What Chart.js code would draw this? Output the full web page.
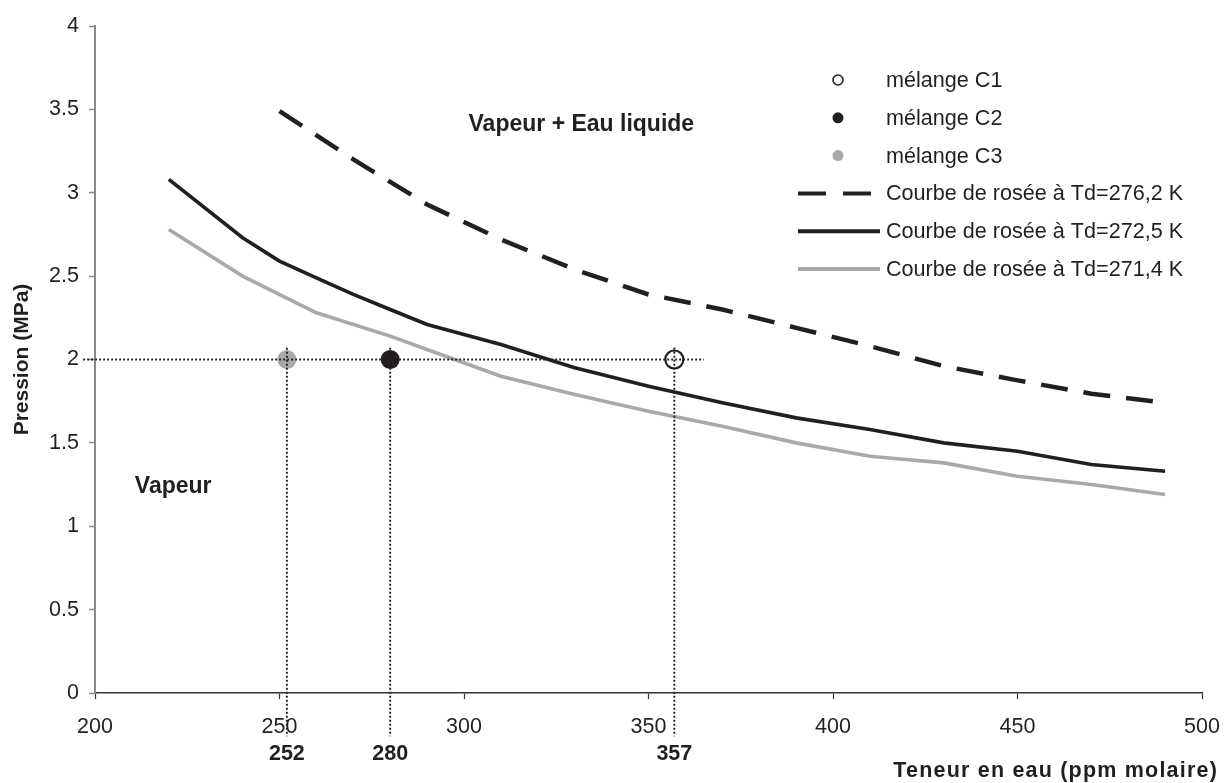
<!DOCTYPE html>
<html>
<head>
<meta charset="utf-8">
<title>Courbes de rosée</title>
<script src="https://cdn.jsdelivr.net/npm/chart.js@4/dist/chart.umd.min.js"></script>
<style>
  body { margin: 0; background: #fff; }
  canvas { display: block; }
</style>
</head>
<body>
<canvas id="chartRosee" width="1227" height="783"></canvas>
<script>
// --- data ---
var xBounds = [200, 500];
var yBounds = [0, 4];

// dew curve Td = 276,2 K (dashed)
var teneur276 = [250, 270, 290, 310, 330, 350, 370, 390, 410, 430, 450, 470, 490];
var pression276 = [3.49, 3.20, 2.93, 2.72, 2.54, 2.39, 2.30, 2.19, 2.08, 1.96, 1.875, 1.795, 1.74];

// dew curve Td = 272,5 K (black)
var teneur272 = [220, 240, 250, 260, 270, 280, 290, 310, 330, 350, 370, 390, 410, 430, 450, 470, 490];
var pression272 = [3.08, 2.73, 2.59, 2.49, 2.39, 2.30, 2.21, 2.09, 1.95, 1.84, 1.74, 1.65, 1.58, 1.50, 1.45, 1.37, 1.33];

// dew curve Td = 271,4 K (grey)
var teneur271 = [220, 240, 260, 280, 290, 310, 330, 350, 370, 390, 410, 430, 450, 470, 490];
var pression271 = [2.78, 2.50, 2.28, 2.14, 2.06, 1.90, 1.79, 1.69, 1.60, 1.50, 1.42, 1.38, 1.30, 1.25, 1.19];

// mixtures C1, C2, C3
var melangeNoms = ['mélange C1', 'mélange C2', 'mélange C3'];
var melangeTeneur = [357, 280, 252];
var melangePression = [2, 2, 2];

// dotted guide extents
var guideX = [196.8, 365];
var guideY = [2.07, -0.26];

var INK = '#231f20';
var GREY = '#a7a9ac';
var FONT = '"Liberation Sans", Arial, sans-serif';

function pts(xs, ys) {
	return xs.map(function (x, i) { return { x: x, y: ys[i] }; });
}

var guideStyle = {
	showLine: true,
	borderColor: INK,
	borderWidth: 1.9,
	borderDash: [1.9, 2.1],
	pointRadius: 0,
	clip: false,
	inLegend: false
};

var datasets = [];

// guides first so they are painted on top
datasets.push(Object.assign({ data: pts(guideX, [2, 2]) }, guideStyle));
melangeTeneur.forEach(function (t) {
	datasets.push(Object.assign({ data: pts([t, t], guideY) }, guideStyle));
});

datasets.push({
	label: melangeNoms[0], data: pts([melangeTeneur[0]], [melangePression[0]]),
	pointRadius: 9, pointBorderWidth: 2.2, pointBackgroundColor: '#fff', pointBorderColor: INK,
	showLine: false, inLegend: true, legendKind: 'point', legendRadius: 5
});
datasets.push({
	label: melangeNoms[1], data: pts([melangeTeneur[1]], [melangePression[1]]),
	pointRadius: 9.5, pointBorderWidth: 0, pointBackgroundColor: INK, pointBorderColor: INK,
	showLine: false, inLegend: true, legendKind: 'point', legendRadius: 5.5
});
datasets.push({
	label: melangeNoms[2], data: pts([melangeTeneur[2]], [melangePression[2]]),
	pointRadius: 9.5, pointBorderWidth: 0, pointBackgroundColor: GREY, pointBorderColor: GREY,
	showLine: false, inLegend: true, legendKind: 'point', legendRadius: 5.5
});
datasets.push({
	label: 'Courbe de rosée à Td=276,2 K', data: pts(teneur276, pression276),
	showLine: true, borderColor: INK, borderWidth: 4.5, borderDash: [27, 16], pointRadius: 0,
	inLegend: true, legendKind: 'line'
});
datasets.push({
	label: 'Courbe de rosée à Td=272,5 K', data: pts(teneur272, pression272),
	showLine: true, borderColor: INK, borderWidth: 3.6, pointRadius: 0,
	inLegend: true, legendKind: 'line'
});
datasets.push({
	label: 'Courbe de rosée à Td=271,4 K', data: pts(teneur271, pression271),
	showLine: true, borderColor: GREY, borderWidth: 3.6, pointRadius: 0,
	inLegend: true, legendKind: 'line'
});

// legend drawn in the top right corner, like the original
var legendPlugin = {
	id: 'legendRosee',
	afterDraw: function (chart) {
		var ctx = chart.ctx;
		var row = 0;
		ctx.save();
		chart.data.datasets.forEach(function (ds) {
			if (!ds.inLegend) return;
			var y = 80 + row * 37.8;
			if (ds.legendKind === 'point') {
				ctx.beginPath();
				ctx.arc(838, y, ds.legendRadius, 0, Math.PI * 2);
				ctx.fillStyle = ds.pointBackgroundColor;
				ctx.fill();
				if (ds.pointBorderWidth) {
					ctx.lineWidth = 1.6;
					ctx.strokeStyle = ds.pointBorderColor;
					ctx.stroke();
				}
			} else {
				ctx.beginPath();
				ctx.setLineDash(ds.borderDash ? [28, 17] : []);
				ctx.lineWidth = 4;
				ctx.strokeStyle = ds.borderColor;
				ctx.moveTo(798, y);
				ctx.lineTo(880, y);
				ctx.stroke();
				ctx.setLineDash([]);
			}
			ctx.fillStyle = INK;
			ctx.font = '21.6px ' + FONT;
			ctx.textAlign = 'left';
			ctx.textBaseline = 'middle';
			ctx.fillText(ds.label, 886, y + 1);
			row++;
		});
		ctx.restore();
	}
};

// region labels, bold values under the axis and the x title
var textPlugin = {
	id: 'textesRosee',
	afterDraw: function (chart) {
		var ctx = chart.ctx;
		var xs = chart.scales.x, ys = chart.scales.y;
		ctx.save();
		ctx.fillStyle = INK;
		ctx.font = 'bold 23px ' + FONT;
		ctx.textBaseline = 'alphabetic';
		ctx.textAlign = 'center';
		ctx.fillText('Vapeur + Eau liquide', xs.getPixelForValue(331.8), ys.getPixelForValue(3.37));
		ctx.textAlign = 'left';
		ctx.fillText('Vapeur', xs.getPixelForValue(210.8), ys.getPixelForValue(1.20));

		ctx.font = 'bold 21.5px ' + FONT;
		ctx.textAlign = 'center';
		ctx.textBaseline = 'middle';
		melangeTeneur.forEach(function (t) {
			ctx.fillText(String(t), xs.getPixelForValue(t), 754);
		});

		ctx.textAlign = 'right';
		if ('letterSpacing' in ctx) ctx.letterSpacing = '1.2px';
		ctx.fillText('Teneur en eau (ppm molaire)', 1218, 771);
		ctx.restore();
	}
};

var ctx = document.getElementById('chartRosee').getContext('2d');
var chart = new Chart(ctx, {
	type: 'scatter',
	data: { datasets: datasets },
	plugins: [legendPlugin, textPlugin],
	options: {
		responsive: false,
		animation: false,
		layout: { padding: { top: 26, right: 25, bottom: 0, left: 0 } },
		plugins: {
			legend: { display: false },
			tooltip: { enabled: false }
		},
		scales: {
			x: {
				type: 'linear',
				min: xBounds[0],
				max: xBounds[1],
				afterFit: function (scale) {
					scale.height = 90;
					scale.paddingLeft = 0;
					scale.paddingRight = 0;
				},
				border: { color: '#333', width: 1.5 },
				grid: { drawOnChartArea: false, drawTicks: true, tickLength: 6, tickColor: '#333', tickWidth: 1.2 },
				ticks: { stepSize: 50, padding: 15, color: INK, font: { family: FONT, size: 21.5 } }
			},
			y: {
				type: 'linear',
				min: yBounds[0],
				max: yBounds[1],
				afterFit: function (scale) { scale.width = 95; },
				border: { color: '#8a8a8a', width: 2 },
				grid: { drawOnChartArea: false, drawTicks: true, tickLength: 6, tickColor: '#8a8a8a', tickWidth: 1.5 },
				ticks: {
					stepSize: 0.5, padding: 10, color: INK, font: { family: FONT, size: 21.5 },
					callback: function (v) { return String(v); }
				},
				title: {
					display: true, text: 'Pression (MPa)', color: INK,
					font: { family: FONT, size: 21, weight: 'bold' },
					padding: { top: 10, bottom: 0 }
				}
			}
		}
	}
});
</script>
</body>
</html>
